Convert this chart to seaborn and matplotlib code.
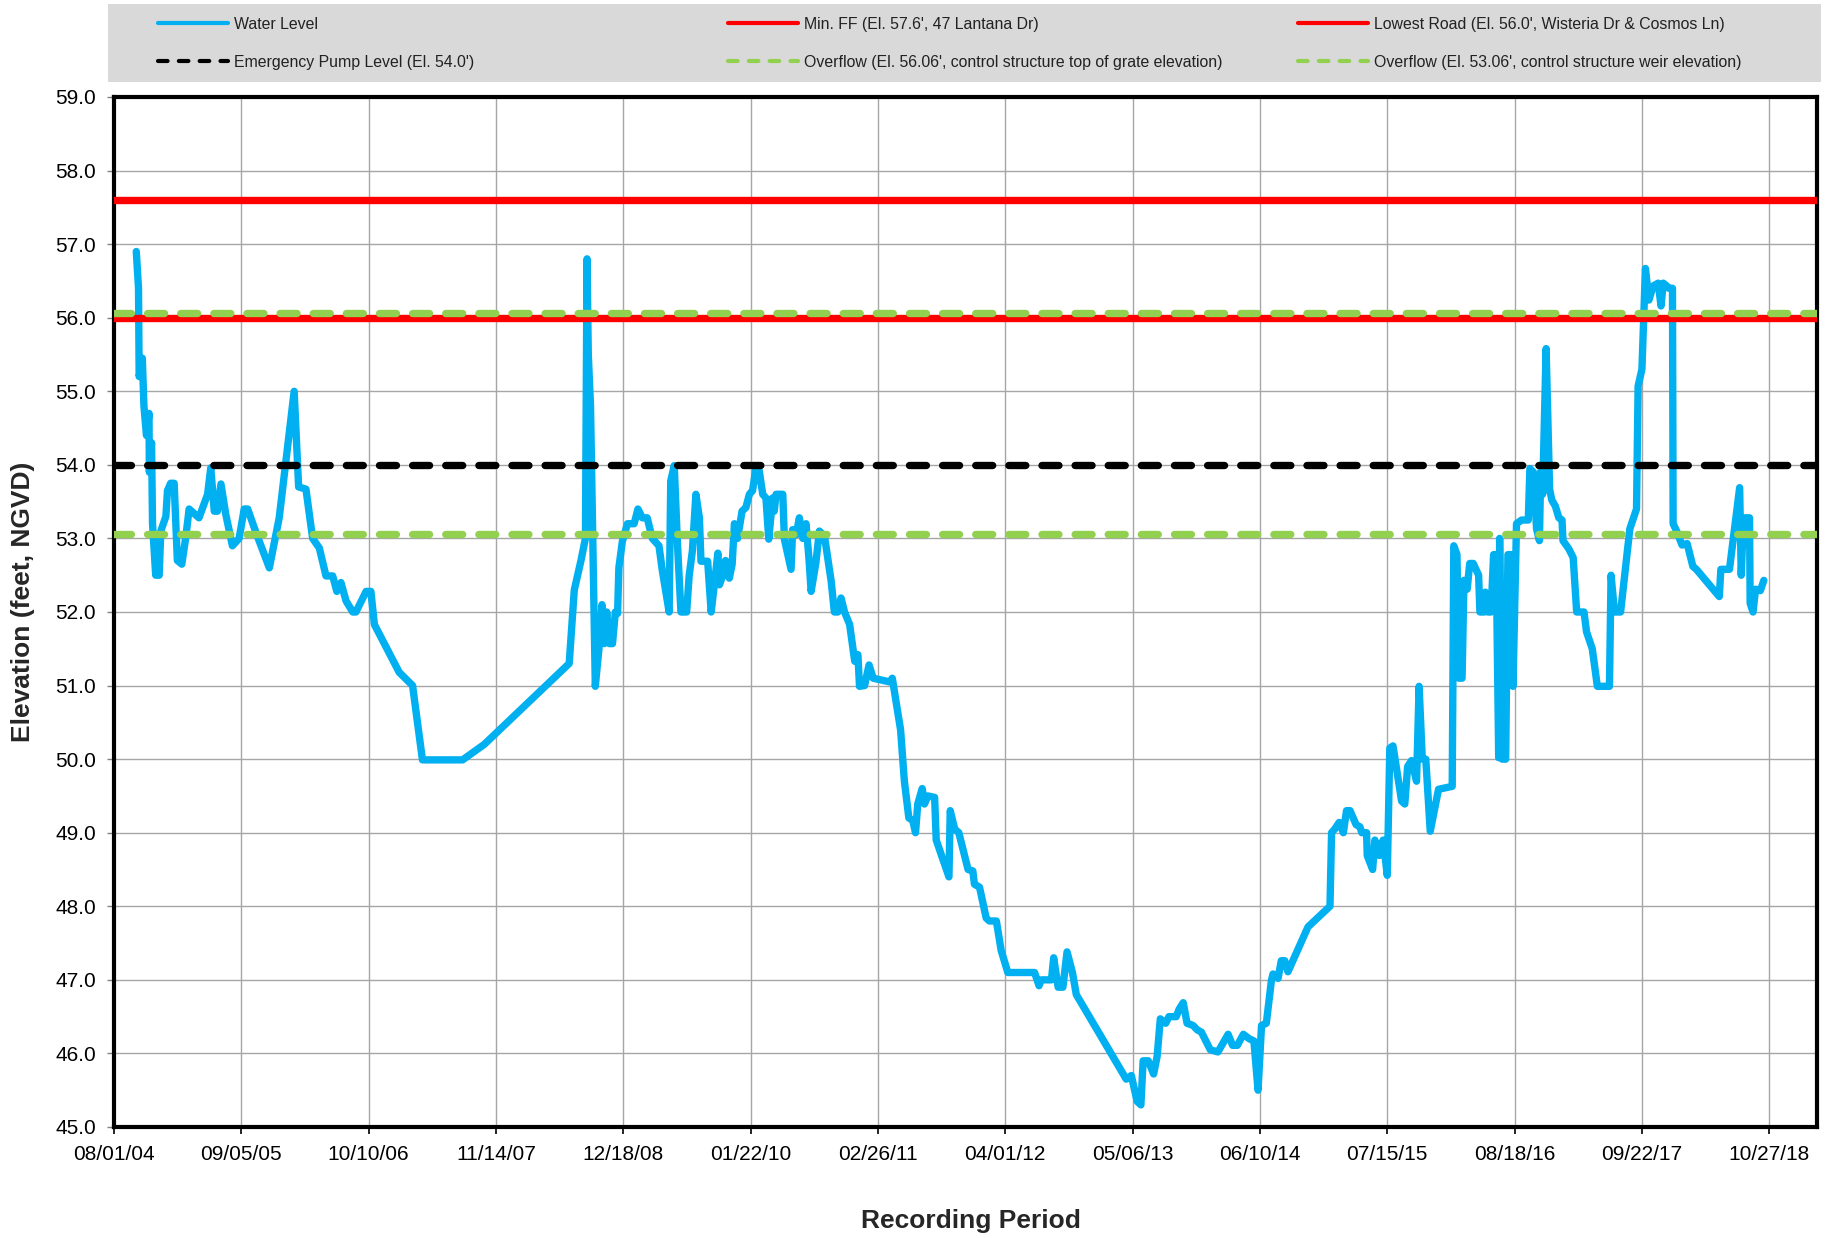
import numpy as np
import pandas as pd
import matplotlib
matplotlib.use("Agg")
import matplotlib.pyplot as plt
import seaborn as sns
from matplotlib.lines import Line2D
from matplotlib.patches import Rectangle
from matplotlib.ticker import FormatStrFormatter

# ---------------- data ----------------
start_date = "2004-08-01"
elapsed_days = [
    70, 77, 79, 89, 94, 102, 110, 111, 118, 121, 131, 142, 147, 163, 168, 178, 189, 199, 213, 225,
    236, 267, 294, 304, 315, 325, 336, 351, 372, 393, 409, 420, 446, 488, 519, 566, 580, 603, 624, 645,
    666, 687, 700, 713, 729, 750, 760, 792, 807, 818, 896, 938, 969, 1095, 1163, 1430, 1446, 1467, 1481, 1486,
    1490, 1497, 1512, 1525, 1533, 1540, 1548, 1556, 1566, 1575, 1582, 1586, 1597, 1613, 1634, 1646, 1660, 1675, 1691, 1712,
    1723, 1744, 1749, 1760, 1770, 1781, 1799, 1807, 1817, 1828, 1839, 1844, 1865, 1876, 1886, 1897, 1902, 1913, 1921, 1933,
    1942, 1949, 1959, 1973, 1985, 1996, 2006, 2017, 2027, 2038, 2048, 2057, 2069, 2074, 2080, 2101, 2106, 2127, 2132, 2143,
    2153, 2164, 2174, 2183, 2190, 2205, 2216, 2232, 2253, 2263, 2274, 2284, 2295, 2311, 2327, 2337, 2342, 2358, 2372, 2385,
    2437, 2445, 2471, 2483, 2497, 2509, 2518, 2525, 2539, 2546, 2557, 2578, 2583, 2623, 2627, 2641, 2654, 2683, 2698, 2703,
    2719, 2734, 2740, 2750, 2772, 2787, 2808, 2892, 2906, 2913, 2945, 2952, 2966, 2981, 2994, 3011, 3023, 3180, 3196, 3214,
    3226, 3233, 3249, 3266, 3277, 3287, 3304, 3314, 3337, 3346, 3359, 3371, 3390, 3403, 3416, 3444, 3468, 3484, 3500, 3514,
    3529, 3548, 3566, 3581, 3594, 3605, 3620, 3636, 3641, 3657, 3667, 3678, 3688, 3751, 3820, 3825, 3835, 3849, 3862, 3872,
    3883, 3902, 3914, 3920, 3935, 3937, 3954, 3961, 3975, 3987, 4000, 4008, 4018, 4045, 4055, 4064, 4076, 4092, 4100, 4110,
    4121, 4135, 4161, 4204, 4209, 4219, 4225, 4235, 4241, 4251, 4259, 4270, 4287, 4291, 4305, 4308, 4316, 4326, 4334, 4342,
    4350, 4353, 4361, 4372, 4379, 4390, 4395, 4406, 4422, 4432, 4443, 4448, 4459, 4469, 4478, 4482, 4488, 4499, 4510, 4517,
    4528, 4539, 4549, 4552, 4570, 4584, 4595, 4618, 4626, 4644, 4660, 4698, 4703, 4714, 4733, 4751, 4762, 4783, 4788, 4800,
    4811, 4822, 4835, 4851, 4860, 4867, 4878, 4885, 4896, 4898, 4910, 4926, 4942, 4960, 4971, 5043, 5048, 5075, 5107, 5112,
    5119, 5138, 5140, 5149, 5157, 5172, 5183,
]
water_level = [
    56.9, 56.4, 55.2, 55.45, 54.8, 54.4, 54.7, 53.9, 54.3, 53.2, 52.5, 52.5, 53.1, 53.3, 53.65, 53.75, 53.75, 52.7, 52.65, 53.0,
    53.4, 53.28, 53.6, 53.96, 53.37, 53.37, 53.74, 53.33, 52.9, 53.0, 53.4, 53.4, 53.08, 52.6, 53.28, 55.0, 53.7, 53.67, 53.0, 52.87,
    52.49, 52.49, 52.28, 52.4, 52.15, 52.0, 52.0, 52.28, 52.28, 51.83, 51.18, 51.0, 49.99, 49.99, 50.2, 51.3, 52.3, 52.7, 53.0, 56.8,
    55.5, 54.8, 50.99, 51.57, 52.1, 51.57, 52.0, 51.57, 51.57, 52.0, 51.98, 52.6, 52.96, 53.2, 53.2, 53.4, 53.28, 53.28, 53.0, 52.9,
    52.55, 52.0, 53.78, 53.99, 52.94, 52.0, 52.0, 52.5, 52.83, 53.6, 53.28, 52.69, 52.69, 52.0, 52.37, 52.8, 52.37, 52.5, 52.7, 52.46,
    52.65, 53.2, 53.0, 53.37, 53.42, 53.6, 53.65, 53.96, 53.92, 53.6, 53.55, 52.99, 53.55, 53.37, 53.6, 53.6, 52.99, 52.58, 53.12, 53.05,
    53.28, 53.0, 53.2, 52.74, 52.28, 52.67, 53.1, 53.03, 52.42, 52.0, 52.0, 52.19, 52.0, 51.83, 51.33, 51.42, 50.99, 51.0, 51.28, 51.1,
    51.05, 51.1, 50.4, 49.7, 49.2, 49.17, 49.0, 49.39, 49.6, 49.39, 49.5, 49.48, 48.9, 48.4, 49.3, 49.05, 49.0, 48.5, 48.48, 48.3,
    48.26, 47.96, 47.84, 47.8, 47.8, 47.4, 47.1, 47.1, 46.92, 47.0, 47.0, 47.3, 46.9, 46.9, 47.38, 47.1, 46.8, 45.65, 45.7, 45.35,
    45.3, 45.9, 45.9, 45.72, 45.96, 46.47, 46.41, 46.5, 46.5, 46.6, 46.69, 46.41, 46.38, 46.32, 46.29, 46.05, 46.02, 46.14, 46.26, 46.11,
    46.11, 46.26, 46.2, 46.17, 45.5, 46.38, 46.41, 46.99, 47.08, 47.02, 47.26, 47.26, 47.11, 47.72, 48.0, 49.0, 49.05, 49.14, 49.0, 49.3,
    49.3, 49.11, 49.08, 49.0, 49.0, 48.69, 48.5, 48.9, 48.69, 48.9, 48.42, 50.15, 50.18, 49.43, 49.39, 49.9, 49.98, 49.7, 50.99, 50.0,
    50.0, 49.02, 49.59, 49.63, 52.9, 52.78, 51.1, 51.1, 52.43, 52.31, 52.66, 52.66, 52.5, 52.0, 52.0, 52.27, 52.0, 52.0, 52.78, 52.78,
    50.02, 53.0, 50.0, 50.0, 52.78, 52.78, 50.99, 53.2, 53.25, 53.25, 53.25, 53.95, 53.9, 53.13, 52.97, 53.91, 53.6, 55.58, 53.67, 53.52,
    53.44, 53.28, 53.25, 52.97, 52.86, 52.74, 52.0, 52.0, 51.73, 51.5, 50.99, 50.99, 52.5, 52.0, 52.0, 52.7, 53.13, 53.4, 55.07, 55.3,
    56.67, 56.24, 56.43, 56.47, 56.16, 56.47, 56.43, 56.4, 56.4, 53.2, 53.09, 52.91, 52.93, 52.62, 52.58, 52.21, 52.58, 52.58, 53.69, 52.5,
    53.28, 53.28, 52.12, 52.0, 52.31, 52.29, 52.43,
]

ref_names = ["Min. FF (El. 57.6', 47 Lantana Dr)",
             "Lowest Road (El. 56.0', Wisteria Dr & Cosmos Ln)",
             "Emergency Pump Level (El. 54.0')",
             "Overflow (El. 56.06', control structure top of grate elevation)",
             "Overflow (El. 53.06', control structure weir elevation)"]
ref_levels = [57.6, 56.0, 54.0, 56.06, 53.06]
ref_colors = ["#FF0000", "#FF0000", "#000000", "#92D050", "#92D050"]
ref_dashed = [False, False, True, True, True]

x_tick_labels = ["08/01/04", "09/05/05", "10/10/06", "11/14/07", "12/18/08", "01/22/10", "02/26/11",
                 "04/01/12", "05/06/13", "06/10/14", "07/15/15", "08/18/16", "09/22/17", "10/27/18"]
y_ticks = [45, 46, 47, 48, 49, 50, 51, 52, 53, 54, 55, 56, 57, 58, 59]
x_span_days = 5350

# ---------------- figure ----------------
sns.set_theme(style="white")
plt.rcParams["font.family"] = ["Liberation Sans", "DejaVu Sans"]

W, H = 1830, 1238
fig = plt.figure(figsize=(W / 100, H / 100), dpi=100)
fig.patch.set_facecolor("white")
ax = fig.add_axes([114 / W, 1 - 1127 / H, (1817 - 114) / W, (1127 - 97) / H])

t0 = pd.Timestamp(start_date)
df = pd.DataFrame({"date": t0 + pd.to_timedelta(elapsed_days, unit="D"),
                   "level": water_level})

LW = 5.3
sns.lineplot(data=df, x="date", y="level", ax=ax, estimator=None, sort=False,
             color="#00B0F0", lw=LW, solid_joinstyle="round", solid_capstyle="round",
             zorder=3, legend=False)

for lvl, col, dashed in zip(ref_levels, ref_colors, ref_dashed):
    if dashed:
        ax.axhline(lvl, color=col, lw=LW, ls=(0, (2.3, 2.2)), dash_capstyle="round", zorder=4)
    else:
        ax.axhline(lvl, color=col, lw=LW, zorder=4)

ax.set_xlim(t0, t0 + pd.Timedelta(days=x_span_days))
ax.set_ylim(min(y_ticks), max(y_ticks))
ax.set_yticks(y_ticks)
ax.yaxis.set_major_formatter(FormatStrFormatter("%.1f"))
xt = pd.to_datetime(x_tick_labels, format="%m/%d/%y")
ax.set_xticks(xt)
ax.set_xticklabels(x_tick_labels)

ax.grid(True, color="#a6a6a6", lw=1.0)
ax.set_axisbelow(True)
for s in ax.spines.values():
    s.set_visible(True)
    s.set_color("black")
    s.set_linewidth(3)

ax.tick_params(axis="both", labelsize=15, labelcolor="black")
ax.tick_params(axis="x", bottom=True, direction="out", length=5, width=1.2, color="black", pad=8)
ax.tick_params(axis="y", left=True, direction="out", length=5, width=1, color="#808080", pad=8)

ax.set_xlabel("Recording Period", fontsize=19, fontweight="bold", va="center")
ax.xaxis.set_label_coords((971 - 114) / 1703, -(1221 - 1127) / 1030)
ax.set_ylabel("Elevation (feet, NGVD)", fontsize=19, fontweight="bold", va="center")
ax.yaxis.set_label_coords((23 - 114) / 1703, (1127 - 602) / 1030)

# ---------------- legend ----------------
fig.add_artist(Rectangle((108 / W, 1 - 82 / H), (1821 - 108) / W, 78.5 / H,
                         transform=fig.transFigure, facecolor="#d9d9d9",
                         edgecolor="none", zorder=0))

def handle(col, dashed):
    if dashed:
        return Line2D([], [], color=col, lw=3, ls=(0, (2.3, 2.7)), dash_capstyle="round")
    return Line2D([], [], color=col, lw=3, solid_capstyle="round")

h_water = handle("#00B0F0", False)
h_ref = [handle(c, d) for c, d in zip(ref_colors, ref_dashed)]
columns = [([h_water, h_ref[2]], ["Water Level", ref_names[2]]),
           ([h_ref[0], h_ref[3]], [ref_names[0], ref_names[3]]),
           ([h_ref[1], h_ref[4]], [ref_names[1], ref_names[4]])]
col_x = [158, 728, 1298]
legend_font = {"family": ["Liberation Sans", "DejaVu Sans"], "size": 11.4}
for (hs, ls), cx in zip(columns, col_x):
    fig.legend(hs, ls, loc="upper left", bbox_to_anchor=(cx / W, 1 - 17 / H),
               frameon=False, prop=legend_font, handlelength=4.4, handletextpad=0.4,
               labelspacing=1.45, borderpad=0, borderaxespad=0, labelcolor="#222222")

fig.savefig("out.png", dpi=100)
